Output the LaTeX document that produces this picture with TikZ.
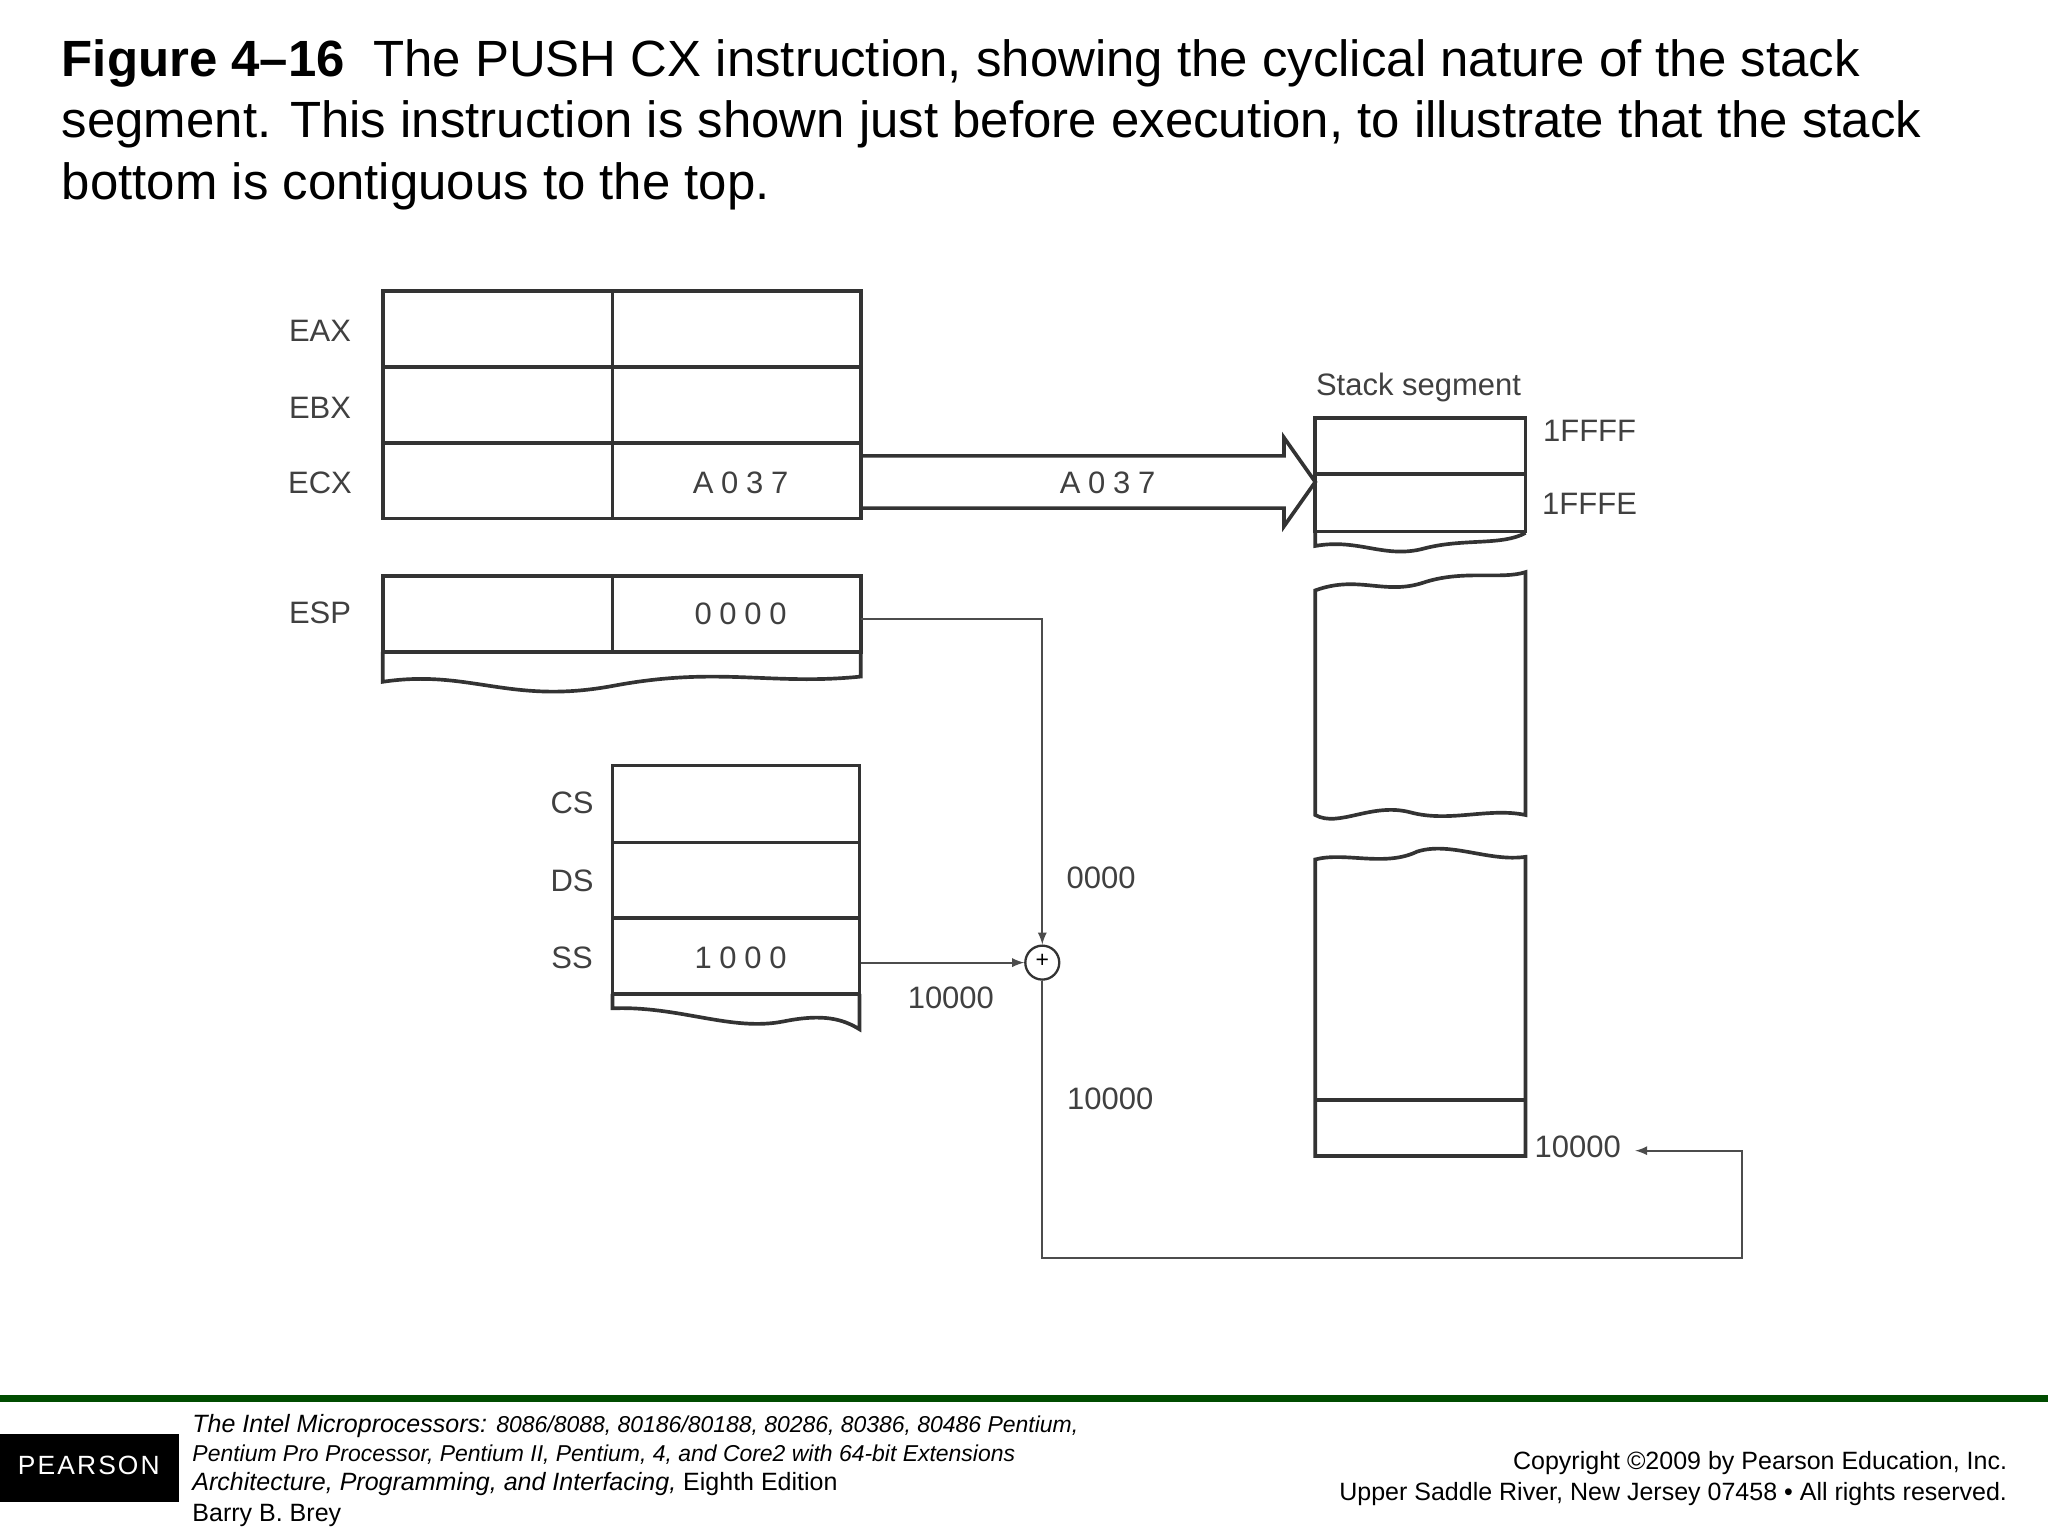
\documentclass[tikz,border=0pt]{standalone}
\usepackage{fontspec}
\setmainfont{Liberation Sans}
\begin{document}
\begin{tikzpicture}[x=0.02cm,y=-0.02cm,
  box/.style={draw=black!80,line width=1.6pt},
  thin/.style={draw=black!70,line width=0.8pt},
  lab/.style={font=\fontsize{13.5}{14}\selectfont,text=black!75},
  val/.style={font=\fontsize{13.5}{14}\selectfont\addfontfeature{LetterSpace=25},text=black!75},
  foot/.style={font=\fontsize{10.9}{12}\selectfont\itshape,anchor=west,inner sep=0pt}]
\useasboundingbox[fill=white] (0,0) rectangle (1568,1176);
% title
\node[anchor=north west,align=left,inner sep=0pt,font=\fontsize{22.2}{26.7}\selectfont] (title) at (47,30)
 {\textbf{Figure 4--16}\ \ The PUSH CX instruction, showing the cyclical nature of the stack\\ segment. This instruction is shown just before execution, to illustrate that the stack\\ bottom is contiguous to the top.};
% registers
\draw[box] (293,223) rectangle (659,397);
\draw[box] (293,281) -- (659,281) (293,339) -- (659,339) (469,223) -- (469,397);
\node[lab] (eax) at (245,253) {EAX};
\node[lab] (ebx) at (245,312) {EBX};
\node[lab] (ecx) at (245,370) {ECX};
\node[val] (a037) at (567,370) {A037};
% ESP
\draw[box] (293,441) rectangle (659,499) (469,441) -- (469,499);
\draw[box] (293,499) -- (293,522) .. controls (360,512) and (390,540) .. (470,525) .. controls (550,510) and (590,525) .. (659,518) -- (659,499);
\node[lab] (esp) at (245,469) {ESP};
\node[val] (esp0) at (567,470) {0000};
% big arrow
\draw[box,line join=miter] (659,349) -- (983,349) -- (983,335) -- (1007,369) -- (983,403) -- (983,389) -- (659,389);
\node[val] (a037b) at (848,370) {A037};
% segment regs
\draw[box] (469,586) rectangle (658,761) (469,645) -- (658,645) (469,703) -- (658,703);
\draw[box] (469,761) -- (469,772) .. controls (520,770) and (560,790) .. (600,782) .. controls (630,776) and (645,780) .. (658,788) -- (658,761);
\node[lab] (cs) at (438,615) {CS};
\node[lab] (ds) at (438,674) {DS};
\node[lab] (ss) at (438,733) {SS};
\node[val] (ss1) at (567,733) {1000};
% stack segment
\node[lab] (stk) at (1086,297) {Stack segment};
\draw[box] (1007,320) rectangle (1168,407) (1007,363) -- (1168,363);
\draw[box] (1007,407) -- (1007,418) .. controls (1040,412) and (1060,428) .. (1090,420) .. controls (1120,412) and (1150,418) .. (1168,408);
\draw[box] (1007,452) .. controls (1040,440) and (1060,456) .. (1090,446) .. controls (1120,436) and (1150,444) .. (1168,438) -- (1168,624) .. controls (1140,618) and (1110,630) .. (1080,622) .. controls (1050,614) and (1025,634) .. (1007,624) -- cycle;
\draw[box] (1007,658) .. controls (1030,652) and (1060,664) .. (1085,652) .. controls (1110,644) and (1140,660) .. (1168,656) -- (1168,885) -- (1007,885) -- cycle;
\draw[box] (1007,842) -- (1168,842);
\node[lab] (f1) at (1217,330) {1FFFF};
\node[lab] (f2) at (1217,386) {1FFFE};
\node[lab] (bot) at (1208,878) {10000};
% adder
\node[draw=black!80,line width=1pt,circle,minimum size=26*0.02cm,inner sep=0pt] (add) at (798,737) {};
\node[font=\normalsize] at (798,736) {+};
\draw[thin,-latex] (659,474) -- (798,474) -- (add.north);
\draw[thin,-latex] (659,737) -- (add.west);
\coordinate (c1) at (798,963);
\coordinate (c2) at (1334,963);
\coordinate (c3) at (1334,881);
\coordinate (c4) at (1252,881);
\draw[thin,-latex] (add.south) -- (c1) -- (c2) -- (c3) -- (c4);
\node[lab] (l0) at (843,672) {0000};
\node[lab] (l1) at (728,764) {10000};
\node[lab] (l2) at (850,841) {10000};
% footer
\draw[line width=3pt,draw=green!30!black] (0,1071) -- (1568,1071);
\fill[black] (0,1098) rectangle (137,1150);
\node[text=white,font=\fontsize{11.5}{12}\selectfont\addfontfeature{LetterSpace=8}] (logo) at (68,1122) {PEARSON};
\node[foot] (fa) at (147,1092) {The Intel Microprocessors: {\fontsize{10}{12}\selectfont 8086/8088, 80186/80188, 80286, 80386, 80486 Pentium,}};
\node[foot,font=\fontsize{10}{12}\selectfont\itshape] (fb) at (147,1114) {Pentium Pro Processor, Pentium II, Pentium, 4, and Core2 with 64-bit Extensions};
\node[foot] (fc) at (147,1136) {Architecture, Programming, and Interfacing, \upshape Eighth Edition};
\node[foot,font=\fontsize{10.9}{12}\selectfont] (fd) at (147,1160) {Barry B. Brey};
\node[anchor=east,inner sep=0pt,font=\fontsize{10.9}{12}\selectfont] (ra) at (1537,1120) {Copyright \textcopyright 2009 by Pearson Education, Inc.};
\node[anchor=east,inner sep=0pt,font=\fontsize{10.9}{12}\selectfont] (rb) at (1537,1144) {Upper Saddle River, New Jersey 07458 \textbullet\ All rights reserved.};
\end{tikzpicture}
\end{document}
